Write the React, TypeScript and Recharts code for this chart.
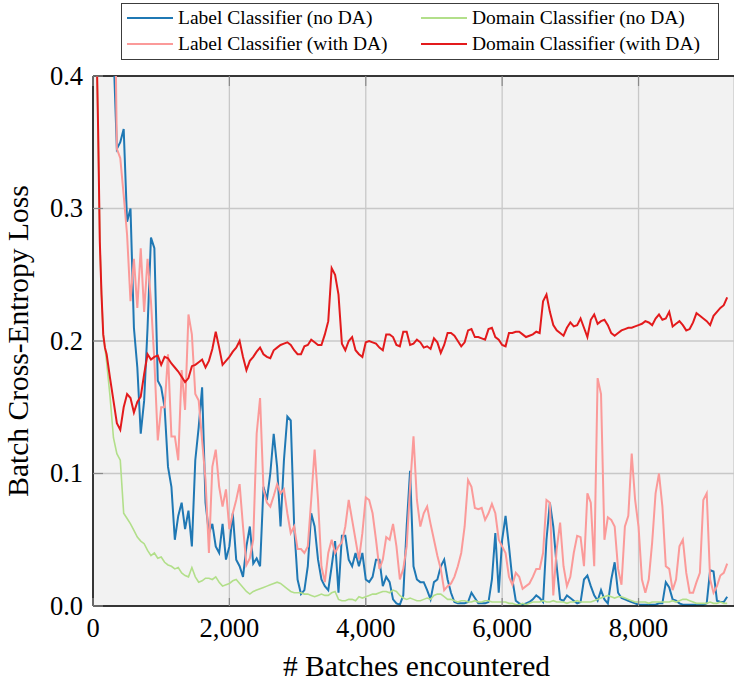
import React from "react";
import { LineChart, Line, XAxis, YAxis, CartesianGrid, Legend, ReferenceLine } from "recharts";

// x positions (# batches)
const batches = [
  0, 25, 50, 75, 100, 125, 150, 175, 200,
  250, 300, 350, 400, 450, 500, 550, 600, 650, 700,
  750, 800, 850, 900, 950, 1000, 1050, 1100, 1150, 1200,
  1250, 1300, 1350, 1400, 1450, 1500, 1550, 1600, 1650, 1700,
  1750, 1800, 1850, 1900, 1950, 2000, 2050, 2100, 2150, 2200,
  2250, 2300, 2350, 2400, 2450, 2500, 2550, 2600, 2650, 2700,
  2750, 2800, 2850, 2900, 2950, 3000,
  3050, 3100, 3150, 3200, 3250, 3300, 3350, 3400, 3450, 3500, 3550, 3600, 3650, 3700, 3750, 3800, 3850, 3900, 3950, 4000,
  4050, 4100, 4150, 4200, 4250, 4300, 4350, 4400, 4450, 4500, 4550, 4600, 4650, 4700, 4750, 4800, 4850, 4900, 4950, 5000,
  5050, 5100, 5150, 5200, 5250, 5300, 5350, 5400, 5450, 5500, 5550, 5600, 5650, 5700, 5750, 5800, 5850, 5900, 5950, 6000,
  6050, 6100, 6150, 6200, 6250, 6300, 6350, 6400, 6450, 6500, 6550, 6600, 6650, 6700, 6750, 6800, 6850, 6900, 6950, 7000,
  7050, 7100, 7150, 7200, 7250, 7300, 7350, 7400, 7450, 7500, 7550, 7600, 7650, 7700, 7750, 7800, 7850, 7900, 7950, 8000,
  8050, 8100, 8150, 8200, 8250, 8300, 8350, 8400, 8450, 8500, 8550, 8600, 8650, 8700, 8750, 8800, 8850, 8900, 8950, 9000,
  9050, 9100, 9150, 9200, 9250, 9300,
];

const labelNoDA = [
  0.9, 0.9, 0.9, 0.9, 0.9, 0.9, 0.9, 0.9, 0.9,
  0.7, 0.42, 0.345, 0.35, 0.36, 0.29, 0.3, 0.21, 0.18, 0.13,
  0.155, 0.21, 0.278, 0.27, 0.17, 0.165, 0.15, 0.105, 0.09, 0.05,
  0.068, 0.078, 0.058, 0.072, 0.045, 0.11, 0.135, 0.165, 0.078, 0.055,
  0.062, 0.045, 0.04, 0.062, 0.035, 0.045, 0.07, 0.035, 0.03, 0.022,
  0.045, 0.06, 0.032, 0.036, 0.03, 0.09, 0.08, 0.1, 0.13, 0.105,
  0.06, 0.11, 0.143, 0.14, 0.06, 0.02,
  0.009, 0.012, 0.03, 0.07, 0.06, 0.035, 0.02, 0.015, 0.012, 0.03, 0.049, 0.01, 0.053, 0.053, 0.035, 0.03, 0.04, 0.03, 0.04, 0.02,
  0.018, 0.022, 0.035, 0.035, 0.015, 0.022, 0.018, 0.005, 0.002, 0.001, 0.008, 0.06, 0.102, 0.03, 0.02, 0.018, 0.018, 0.012, 0.005, 0.018,
  0.02, 0.03, 0.035, 0.02, 0.01, 0.003, 0.002, 0.002, 0.002, 0.003, 0.01, 0.006, 0.002, 0.002, 0.002, 0.003, 0.02, 0.055, 0.01, 0.05,
  0.068, 0.045, 0.02, 0.004, 0.002, 0.001, 0.002, 0.003, 0.005, 0.008, 0.006, 0.003, 0.05, 0.078, 0.06, 0.03, 0.005, 0.004, 0.008, 0.006,
  0.004, 0.002, 0.003, 0.02, 0.023, 0.015, 0.008, 0.004, 0.012, 0.005, 0.002, 0.02, 0.033, 0.01, 0.006, 0.005, 0.004, 0.003, 0.002, 0.001,
  0.001, 0.001, 0.001, 0.001, 0.001, 0.002, 0.002, 0.018, 0.014, 0.005, 0.004, 0.002, 0.001, 0.001, 0.001, 0.001, 0.001, 0.001, 0.001, 0.002,
  0.027, 0.026, 0.004, 0.003, 0.003, 0.007,
];

const domainNoDA = [
  0.62, 0.5, 0.43, 0.36, 0.275, 0.235, 0.205, 0.195, 0.184,
  0.158, 0.127, 0.115, 0.11, 0.07, 0.066, 0.062, 0.057, 0.052, 0.049,
  0.047, 0.042, 0.038, 0.04, 0.036, 0.037, 0.033, 0.031, 0.03, 0.028,
  0.029, 0.025, 0.023, 0.022, 0.029, 0.022, 0.018, 0.019, 0.021, 0.021,
  0.02, 0.022, 0.018, 0.015, 0.016, 0.017, 0.019, 0.02, 0.017, 0.014,
  0.011, 0.009, 0.011, 0.012, 0.013, 0.014, 0.015, 0.016, 0.017, 0.018,
  0.017, 0.015, 0.013, 0.011, 0.01, 0.01,
  0.01, 0.009, 0.009, 0.008, 0.007, 0.008, 0.009, 0.008, 0.008, 0.01, 0.011, 0.005, 0.004, 0.004, 0.005, 0.005, 0.004, 0.007, 0.006, 0.007,
  0.008, 0.009, 0.009, 0.01, 0.011, 0.011, 0.01, 0.012, 0.011, 0.008, 0.006, 0.005, 0.006, 0.005, 0.004, 0.004, 0.005, 0.006, 0.005, 0.008,
  0.009, 0.009, 0.007, 0.005, 0.005, 0.004, 0.003, 0.004, 0.004, 0.003, 0.003, 0.004, 0.003, 0.003, 0.004, 0.004, 0.003, 0.003, 0.003, 0.003,
  0.003, 0.002, 0.002, 0.001, 0.001, 0.002, 0.001, 0.002, 0.003, 0.003, 0.003, 0.004, 0.003, 0.003, 0.004, 0.003, 0.003, 0.003, 0.002, 0.003,
  0.003, 0.004, 0.003, 0.003, 0.003, 0.003, 0.004, 0.005, 0.006, 0.007, 0.008, 0.007, 0.006, 0.007, 0.007, 0.006, 0.005, 0.004, 0.003, 0.003,
  0.003, 0.003, 0.002, 0.003, 0.003, 0.003, 0.003, 0.003, 0.003, 0.004, 0.003, 0.004, 0.005, 0.005, 0.004, 0.003, 0.002, 0.002, 0.002, 0.002,
  0.003, 0.002, 0.002, 0.003, 0.002, 0.002,
];

const labelWithDA = [
  0.9, 0.9, 0.9, 0.9, 0.9, 0.9, 0.9, 0.9, 0.9,
  0.8, 0.55, 0.345, 0.338, 0.31, 0.28, 0.23, 0.262, 0.225, 0.27,
  0.222, 0.262, 0.23, 0.185, 0.125, 0.15, 0.15, 0.19, 0.128, 0.128,
  0.11, 0.178, 0.148, 0.22, 0.205, 0.16, 0.155, 0.125, 0.095, 0.04,
  0.105, 0.118, 0.09, 0.075, 0.088, 0.058, 0.07, 0.08, 0.092, 0.06,
  0.031, 0.036, 0.05, 0.13, 0.157, 0.088, 0.078, 0.075, 0.083, 0.092,
  0.085, 0.088, 0.07, 0.055, 0.06, 0.043,
  0.043, 0.04, 0.045, 0.08, 0.118, 0.08, 0.03, 0.018, 0.04, 0.05, 0.04, 0.045, 0.048, 0.06, 0.08, 0.065, 0.05, 0.035, 0.055, 0.082,
  0.08, 0.07, 0.05, 0.028, 0.035, 0.052, 0.05, 0.062, 0.045, 0.02, 0.028, 0.045, 0.09, 0.128, 0.08, 0.06, 0.07, 0.075, 0.062, 0.05,
  0.038, 0.028, 0.012, 0.015, 0.017, 0.022, 0.03, 0.04, 0.06, 0.095, 0.09, 0.074, 0.073, 0.074, 0.065, 0.07, 0.077, 0.07, 0.05, 0.045,
  0.04, 0.022, 0.016, 0.025, 0.022, 0.013, 0.015, 0.017, 0.022, 0.028, 0.028, 0.04, 0.08, 0.078, 0.008, 0.043, 0.063, 0.03, 0.015, 0.022,
  0.04, 0.053, 0.052, 0.03, 0.085, 0.078, 0.03, 0.172, 0.16, 0.05, 0.067, 0.065, 0.06, 0.028, 0.016, 0.06, 0.068, 0.115, 0.08, 0.06,
  0.02, 0.01, 0.02, 0.048, 0.085, 0.1, 0.075, 0.03, 0.028, 0.012, 0.02, 0.045, 0.05, 0.025, 0.01, 0.01, 0.018, 0.025, 0.08, 0.085,
  0.02, 0.01, 0.015, 0.023, 0.025, 0.032,
];

const domainWithDA = [
  0.62, 0.5, 0.43, 0.36, 0.275, 0.235, 0.205, 0.195, 0.19,
  0.172, 0.155, 0.138, 0.133, 0.15, 0.16, 0.157, 0.146, 0.154, 0.158,
  0.175, 0.19, 0.186, 0.188, 0.189, 0.182, 0.188, 0.187, 0.183, 0.18,
  0.177, 0.173, 0.169, 0.172, 0.181, 0.182, 0.184, 0.186, 0.18, 0.185,
  0.194, 0.207, 0.195, 0.182, 0.185, 0.188, 0.192, 0.195, 0.2, 0.188,
  0.178, 0.185, 0.188, 0.192, 0.195, 0.19, 0.188, 0.187, 0.193, 0.195,
  0.197, 0.198, 0.199, 0.197, 0.193, 0.19,
  0.19, 0.196, 0.197, 0.201, 0.199, 0.197, 0.197, 0.205, 0.215, 0.255, 0.25, 0.235, 0.198, 0.193, 0.2, 0.203, 0.193, 0.19, 0.188, 0.199,
  0.2, 0.199, 0.198, 0.195, 0.193, 0.205, 0.205, 0.203, 0.197, 0.196, 0.207, 0.207, 0.197, 0.198, 0.201, 0.199, 0.195, 0.196, 0.194, 0.202,
  0.199, 0.191, 0.197, 0.206, 0.206, 0.204, 0.2, 0.196, 0.199, 0.208, 0.209, 0.203, 0.203, 0.202, 0.201, 0.209, 0.21, 0.203, 0.201, 0.197,
  0.196, 0.206, 0.206, 0.207, 0.207, 0.205, 0.203, 0.204, 0.205, 0.207, 0.206, 0.23, 0.235, 0.222, 0.212, 0.208, 0.206, 0.204, 0.21, 0.214,
  0.211, 0.212, 0.217, 0.21, 0.203, 0.216, 0.22, 0.213, 0.215, 0.216, 0.212, 0.206, 0.204, 0.206, 0.208, 0.209, 0.21, 0.21, 0.211, 0.212,
  0.213, 0.215, 0.214, 0.212, 0.217, 0.22, 0.216, 0.217, 0.222, 0.211, 0.213, 0.215, 0.212, 0.208, 0.209, 0.214, 0.221, 0.219, 0.217, 0.215,
  0.212, 0.219, 0.222, 0.225, 0.227, 0.233,
];

const xTicks = [0, 2000, 4000, 6000, 8000];
const yTicks = [0, 0.1, 0.2, 0.3, 0.4];

const seriesKeys = ["labelNoDA", "domainNoDA", "labelWithDA", "domainWithDA"];
const seriesNames = [
  "Label Classifier (no DA)",
  "Domain Classifier (no DA)",
  "Label Classifier (with DA)",
  "Domain Classifier (with DA)",
];
const seriesColors = ["#1f78b4", "#b2df8a", "#fb9a99", "#e31a1c"];

const data = batches.map((x, i) => ({
  x,
  labelNoDA: labelNoDA[i],
  domainNoDA: domainNoDA[i],
  labelWithDA: labelWithDA[i],
  domainWithDA: domainWithDA[i],
}));

const W = 734;
const H = 683;
const TOP = 76;
const FONT = "Liberation Serif";

const YTick = (props: any) => {
  const { x, y, payload } = props;
  return (
    <g>
      <line x1={x + 10} x2={x + 20} y1={y} y2={y} stroke="#8a8a8a" strokeWidth={1.2} />
      <text x={x} y={y} dy="0.33em" textAnchor="end" style={{ fontFamily: FONT, fontSize: 26.5 }} fill="#000">
        {Number(payload.value).toFixed(1)}
      </text>
    </g>
  );
};

const XTick = (props: any) => {
  const { x, y, payload } = props;
  return (
    <g>
      <line x1={x} x2={x} y1={y} y2={y - 8} stroke="#8a8a8a" strokeWidth={1.2} />
      <line x1={x} x2={x} y1={TOP} y2={TOP + 10} stroke="#8a8a8a" strokeWidth={1.2} />
      <text x={x} y={y + 31} textAnchor="middle" style={{ fontFamily: FONT, fontSize: 26.5 }} fill="#000">
        {Number(payload.value).toLocaleString("en-US")}
      </text>
    </g>
  );
};

const YLabel = (props: any) => {
  const vb = props.viewBox || { x: 0, y: TOP, width: 93, height: 530 };
  const cx = vb.x + 18;
  const cy = vb.y + vb.height / 2;
  return (
    <text
      x={cx}
      y={cy}
      transform={`rotate(-90, ${cx}, ${cy})`}
      textAnchor="middle"
      dominantBaseline="central"
      style={{ fontFamily: FONT, fontSize: 29.5 }}
      fill="#000"
    >
      Batch Cross-Entropy Loss
    </text>
  );
};

const XLabel = (props: any) => {
  const vb = props.viewBox || { x: 93, y: 606, width: 641, height: 77 };
  const cx = vb.x + vb.width / 2 + 3;
  const cy = vb.y + 60;
  return (
    <text x={cx} y={cy} textAnchor="middle" dominantBaseline="central" style={{ fontFamily: FONT, fontSize: 29.5 }} fill="#000">
      # Batches encountered
    </text>
  );
};

const renderLegend = () => {
  return (
    <div
      style={{
        position: "relative",
        width: 598,
        height: 57,
        boxSizing: "border-box",
        border: "1.5px solid #3c3c3c",
        background: "#fff",
        fontFamily: FONT,
        fontSize: 19.5,
        color: "#000",
      }}
    >
      {seriesNames.map((name, i) => {
        const col = i % 2;
        const row = Math.floor(i / 2);
        return (
          <div
            key={name}
            style={{
              position: "absolute",
              left: 5 + col * 294,
              top: 1 + row * 26,
              height: 26,
              display: "flex",
              alignItems: "center",
              whiteSpace: "nowrap",
            }}
          >
            <svg width={46} height={4} style={{ marginRight: 5 }}>
              <line x1={0} x2={46} y1={2} y2={2} stroke={seriesColors[i]} strokeWidth={2} />
            </svg>
            <span>{name}</span>
          </div>
        );
      })}
    </div>
  );
};

export default function App() {
  const widths = [2, 1.6, 2, 2];
  return (
    <div style={{ position: "absolute", left: 0, top: 0, width: W, height: H, background: "#fff" }}>
      <LineChart width={W} height={H} data={data} margin={{ top: TOP, right: 0, bottom: 0, left: 0 }}>
        <CartesianGrid stroke="#c8c8c8" strokeWidth={1.3} fill="#f2f2f2" fillOpacity={1} />
        <XAxis
          dataKey="x"
          type="number"
          domain={[0, 9400]}
          ticks={xTicks}
          allowDataOverflow
          height={77}
          tickSize={0}
          tickMargin={0}
          axisLine={{ stroke: "#000", strokeWidth: 1.5 }}
          tickLine={false}
          tick={<XTick />}
          interval={0}
          label={<XLabel />}
        />
        <YAxis
          type="number"
          domain={[0, 0.4]}
          ticks={yTicks}
          allowDataOverflow
          width={93}
          tickSize={0}
          tickMargin={10}
          axisLine={{ stroke: "#000", strokeWidth: 1.5 }}
          tickLine={false}
          tick={<YTick />}
          interval={0}
          label={<YLabel />}
        />
        <ReferenceLine y={0.4} stroke="#000" strokeWidth={1.5} ifOverflow="extendDomain" />
        {seriesKeys.map((k, i) => (
          <Line
            key={k}
            dataKey={k}
            name={seriesNames[i]}
            stroke={seriesColors[i]}
            strokeWidth={widths[i]}
            dot={false}
            activeDot={false}
            type="linear"
            isAnimationActive={false}
          />
        ))}
        <Legend
          verticalAlign="middle"
          align="center"
          layout="horizontal"
          content={renderLegend}
          wrapperStyle={{ position: "absolute", left: 121, top: 3, width: 598, height: 57 }}
        />
      </LineChart>
    </div>
  );
}
